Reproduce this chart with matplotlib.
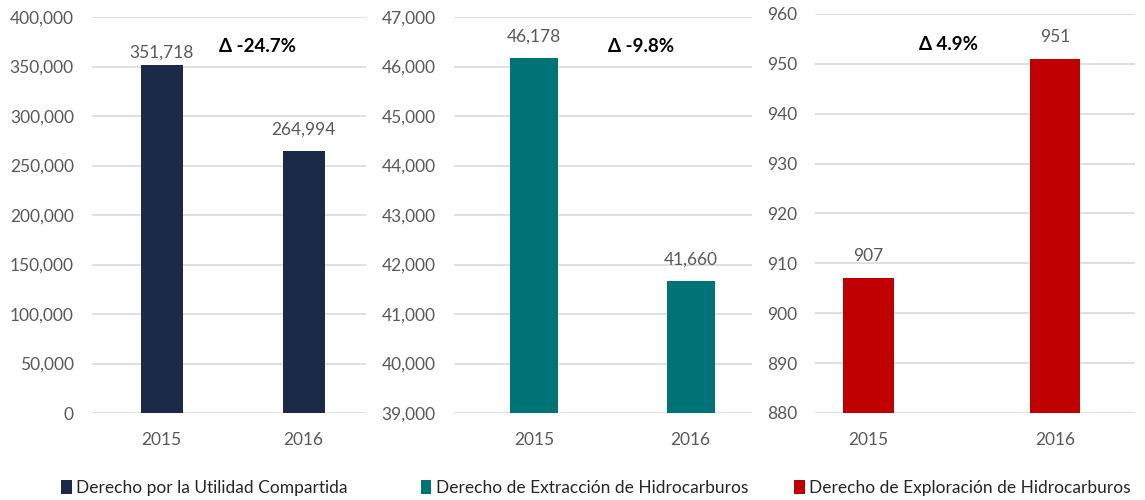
import matplotlib.pyplot as plt
from matplotlib.ticker import FuncFormatter

years = ["2015", "2016"]

utilidad = [351718, 264994]
extraccion = [46178, 41660]
exploracion = [907, 951]

series_names = [
    "Derecho por la Utilidad Compartida",
    "Derecho de Extracción de Hidrocarburos",
    "Derecho de Exploración de Hidrocarburos",
]
deltas = ["Δ -24.7%", "Δ -9.8%", "Δ 4.9%"]

plt.rcParams["font.family"] = ["Lato", "DejaVu Sans"]

gray = "#595959"
grid = "#D9D9D9"
colors = ["#1B2A47", "#007377", "#C00000"]

fig = plt.figure(figsize=(11.45, 5.0), dpi=100)

boxes = [
    [0.0803, 0.174, 0.239, 0.792],
    [0.3965, 0.174, 0.260, 0.792],
    [0.712, 0.174, 0.2795, 0.798],
]
ylims = [(0, 400000), (39000, 47000), (880, 960)]
ysteps = [50000, 1000, 10]
xlims = [(-0.491, 1.436), (-0.509, 1.389), (-0.284, 1.428)]
widths = [0.295, 0.305, 0.27]
delta_pos = [(0.677, 369700), (0.683, 46394), (0.428, 953.8)]
label_offsets = [(9, 15.5), (15, 15.5), (16, 16)]
legend_x = [0.040, 0.354, 0.680]

data = [utilidad, extraccion, exploracion]

for i, vals in enumerate(data):
    ax = fig.add_axes(boxes[i])
    x = range(len(years))
    lo, hi = ylims[i]
    bars = ax.bar(x, [v - lo for v in vals], bottom=lo, width=widths[i],
                  color=colors[i], zorder=3)
    ax.set_ylim(lo, hi)
    ax.set_xlim(*xlims[i])
    ticks = list(range(lo, hi + 1, ysteps[i]))
    ax.set_yticks(ticks)
    ax.yaxis.set_major_formatter(FuncFormatter(lambda v, p: f"{int(v):,}"))
    ax.set_xticks(list(x))
    ax.set_xticklabels(years)
    ax.tick_params(axis="both", length=0, colors=gray, labelsize=12.5)
    ax.tick_params(axis="y", pad=13)
    ax.tick_params(axis="x", pad=14)
    for s in ax.spines.values():
        s.set_visible(False)
    ax.grid(axis="y", color=grid, linewidth=1.2, zorder=0)
    ax.set_axisbelow(True)
    for j, v in enumerate(vals):
        ax.annotate(f"{v:,}", (j, v), xytext=(0, label_offsets[i][j]),
                    textcoords="offset points", ha="center", va="center",
                    color=gray, fontsize=12.5)
    dx, dy = delta_pos[i]
    ax.text(dx, dy, deltas[i], ha="center", va="center", fontsize=13.5,
            fontweight="bold", color="black")
    fig.legend(handles=[bars], labels=[series_names[i]],
               loc="center left",
               bbox_to_anchor=(legend_x[i], 0.024),
               frameon=False, fontsize=12.5, handlelength=0.6,
               handleheight=0.9, handletextpad=0.25, labelcolor="#262626")

fig.savefig("out.png", dpi=100)
